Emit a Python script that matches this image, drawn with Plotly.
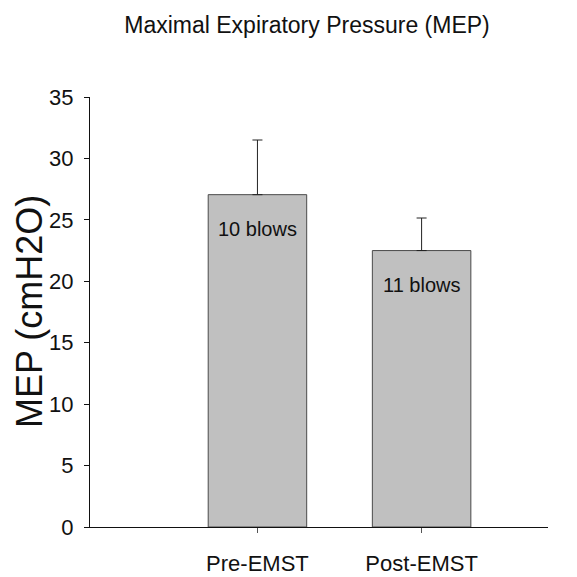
import plotly.graph_objects as go

categories = ["Pre-EMST", "Post-EMST"]
mep_mean = [27.05, 22.5]
mep_err = [4.45, 2.65]
bar_labels = ["10 blows", "11 blows"]
y_ticks = [0, 5, 10, 15, 20, 25, 30, 35]

FONT = "Liberation Sans, Arial, sans-serif"
OFF = 8  # page body margin offset

fig = go.Figure()
fig.add_trace(go.Bar(
    x=categories, y=mep_mean,
    width=0.6,
    marker=dict(color="#c0c0c0", line=dict(color="#4a4a4a", width=1)),
    error_y=dict(type="data", symmetric=False, array=mep_err,
                 arrayminus=[0] * len(mep_err),
                 color="#222222", thickness=1, width=5),
    showlegend=False,
))

for cat, val, lab in zip(categories, mep_mean, bar_labels):
    fig.add_annotation(x=cat, y=val, text=lab, showarrow=False,
                       yanchor="top", yshift=-21,
                       font=dict(family=FONT, size=20, color="#111111"))

# y-axis title as rotated annotation for precise placement
fig.add_annotation(x=0, y=0.5, xref="paper", yref="paper",
                   text="MEP (cmH2O)", textangle=-90, showarrow=False,
                   xanchor="center", yanchor="middle", xshift=-61, yshift=0,
                   font=dict(family=FONT, size=36, color="#111111"))

fig.update_layout(
    width=577, height=577,
    margin=dict(l=90 - OFF, r=29 + OFF, t=97 - OFF, b=50 + OFF, autoexpand=False),
    paper_bgcolor="white", plot_bgcolor="white",
    title=dict(text="Maximal Expiratory Pressure (MEP)",
               x=(307 - OFF) / 577, xref="container", xanchor="center",
               y=1 - (25 - OFF) / 577, yref="container", yanchor="middle",
               font=dict(family=FONT, size=23, color="#111111")),
    font=dict(family=FONT, color="#111111"),
)
fig.update_xaxes(
    range=[-1.02, 1.77], automargin=False,
    showline=True, linecolor="#111111", linewidth=1,
    ticks="outside", ticklen=5, tickcolor="#555555",
    tickfont=dict(family=FONT, size=22, color="#111111"),
    ticklabelstandoff=12,
    showgrid=False, zeroline=False,
)
fig.update_yaxes(
    range=[0, 35], tickvals=y_ticks, automargin=False,
    showline=True, linecolor="#111111", linewidth=1,
    ticks="outside", ticklen=5, tickcolor="#111111",
    tickfont=dict(family=FONT, size=22, color="#111111"),
    ticklabelstandoff=6,
    showgrid=False, zeroline=False,
)

fig.write_html("out.html")
